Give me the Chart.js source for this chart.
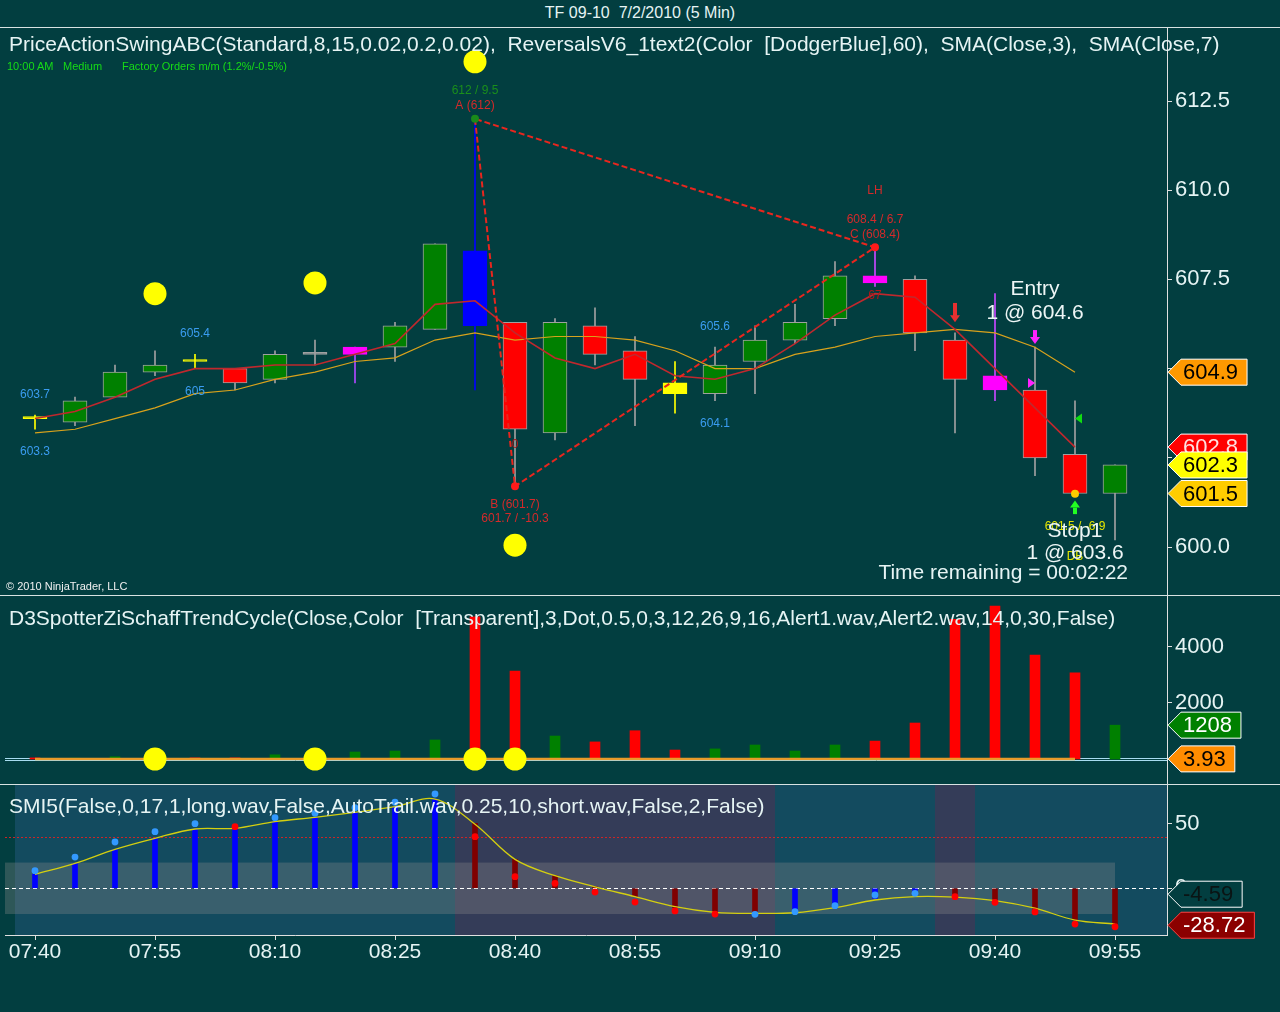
<!DOCTYPE html>
<html>
<head>
<meta charset="utf-8">
<script src="https://cdn.jsdelivr.net/npm/chart.js@4.4.1/dist/chart.umd.min.js"></script>
<style>
  html, body { margin: 0; padding: 0; background: #023e40; }
  body { width: 1280px; height: 1012px; position: relative; overflow: hidden;
         font-family: "Liberation Sans", Arial, sans-serif; color: #e6f4f4; }
  canvas { position: absolute; left: 0; }
  .txt { position: absolute; white-space: pre; z-index: 2; }
  .rule { position: absolute; left: 0; width: 1280px; height: 1px; background: #d8e2e2; z-index: 3; }
</style>
</head>
<body>
<div class="txt" style="left:0;width:1280px;text-align:center;top:4px;font-size:16px;line-height:18px;">TF 09-10  7/2/2010 (5 Min)</div>
<div class="rule" style="top:27px"></div>
<div class="rule" style="top:595px"></div>
<div class="rule" style="top:784px"></div>

<canvas id="price" width="1280" height="567" style="top:28px"></canvas>
<canvas id="osc" width="1280" height="188" style="top:596px"></canvas>
<canvas id="smi" width="1280" height="227" style="top:785px"></canvas>

<div class="txt" style="left:9px;top:33px;font-size:21px;line-height:22px;">PriceActionSwingABC(Standard,8,15,0.02,0.2,0.02),  ReversalsV6_1text2(Color  [DodgerBlue],60),  SMA(Close,3),  SMA(Close,7)</div>
<div class="txt" style="left:7px;top:60px;font-size:11px;line-height:12px;color:#16dc16;">10:00 AM</div>
<div class="txt" style="left:63px;top:60px;font-size:11px;line-height:12px;color:#16dc16;">Medium</div>
<div class="txt" style="left:122px;top:60px;font-size:11px;line-height:12px;color:#16dc16;">Factory Orders m/m (1.2%/-0.5%)</div>
<div class="txt" style="left:6px;top:580px;font-size:11px;line-height:12px;color:#f0f0f0;">© 2010 NinjaTrader, LLC</div>
<div class="txt" style="right:152px;top:561px;font-size:21px;line-height:22px;">Time remaining = 00:02:22</div>
<div class="txt" style="left:9px;top:607px;font-size:21px;line-height:22px;">D3SpotterZiSchaffTrendCycle(Close,Color  [Transparent],3,Dot,0.5,0,3,12,26,9,16,Alert1.wav,Alert2.wav,14,0,30,False)</div>
<div class="txt" style="left:9px;top:795px;font-size:21px;line-height:22px;">SMI5(False,0,17,1,long.wav,False,AutoTrail.wav,0.25,10,short.wav,False,2,False)</div>

<script>
// 5 minute bars, 07:40 .. 09:55
var times = ['07:40','07:45','07:50','07:55','08:00','08:05','08:10','08:15','08:20','08:25',
             '08:30','08:35','08:40','08:45','08:50','08:55','09:00','09:05','09:10','09:15',
             '09:20','09:25','09:30','09:35','09:40','09:45','09:50','09:55'];
var timeTicks = [0, 3, 6, 9, 12, 15, 18, 21, 24, 27];

var opens  = [603.6, 603.5, 604.2, 604.9, 605.2, 605.0, 604.7, 605.4, 605.4, 605.6,
              606.1, 608.3, 606.3, 603.2, 606.2, 605.5, 604.6, 604.3, 605.2, 605.8,
              606.4, 607.6, 607.5, 605.8, 604.8, 604.4, 602.6, 601.5];
var highs  = [603.7, 604.2, 605.1, 605.5, 605.4, 605.0, 605.5, 605.8, 605.6, 606.3,
              608.5, 612.0, 606.3, 606.4, 606.7, 605.9, 605.2, 605.6, 606.2, 606.8,
              608.0, 608.4, 607.6, 606.0, 607.1, 605.6, 604.1, 602.3];
var lows   = [603.3, 603.4, 604.2, 604.8, 605.0, 604.4, 604.6, 605.1, 604.6, 605.2,
              606.1, 604.4, 601.7, 603.0, 605.1, 603.4, 603.75, 604.1, 604.3, 605.7,
              606.2, 607.3, 605.5, 603.2, 604.1, 602.0, 601.5, 600.2];
var closes = [603.6, 604.1, 604.9, 605.1, 605.2, 604.6, 605.4, 605.4, 605.6, 606.2,
              608.5, 606.2, 603.3, 606.3, 605.4, 604.7, 604.3, 605.1, 605.8, 606.3,
              607.6, 607.4, 606.0, 604.7, 604.4, 602.5, 601.5, 602.3];
var sma3 = [603.6, 603.8, 604.2, 604.7, 605.0, 605.0, 605.1, 605.1, 605.4, 605.7,
            606.8, 606.9, 606.0, 605.3, 605.0, 605.4, 604.8, 604.7, 605.0, 605.7,
            606.5, 607.1, 607.0, 606.1, 605.0, 603.9, 602.8];
var sma7 = [603.2, 603.3, 603.6, 603.9, 604.3, 604.4, 604.7, 604.9, 605.2, 605.3,
            605.8, 606.0, 605.8, 605.9, 605.9, 605.8, 605.5, 605.0, 605.0, 605.4,
            605.6, 605.9, 606.0, 606.1, 606.0, 605.6, 604.9];
var priceTicks = [600, 602.5, 605, 607.5, 610, 612.5];

// reversal dots and the A-B-C swing
var dotBars = [3, 7, 11, 12];
var dotPrices = [607.1, 607.4, 613.6, 600.05];
var swingBars = [11, 12, 21, 11];
var swingPrices = [612.0, 601.7, 608.4, 612.0];

// D3Spotter histogram
var oscValues = [40, 30, 80, 20, 40, 40, 150, 20, 250, 285,
                 680, 5080, 3140, 820, 610, 1010, 320, 360, 500, 285,
                 500, 640, 1285, 4990, 5460, 3710, 3080, 1208];
var oscTrail = [3.93, 3.93, 3.93, 3.93, 3.93, 3.93, 3.93, 3.93, 3.93, 3.93,
                3.93, 3.93, 3.93, 3.93, 3.93, 3.93, 3.93, 3.93, 3.93, 3.93,
                3.93, 3.93, 3.93, 3.93, 3.93, 3.93, 3.93];
var oscTicks = [2000, 4000];

// SMI
var smiHist = [10.9, 19.4, 30.3, 38.9, 46.1, 46.6, 51.8, 55.2, 59.1, 63.5,
               69.4, 50.5, 22.5, 9.8, 1.2, -6.5, -15.0, -18.7, -18.0, -18.2,
               -13.5, -7.8, -2.6, -5.2, -9.6, -16.3, -24.7, -28.5];
var smiDots = [13.7, 24.3, 36.0, 44.0, 50.2, 47.9, 54.9, 58.3, 62.7, 66.9,
               73.3, 40.1, 9.0, 3.9, -2.9, -10.7, -17.6, -20.0, -20.2, -18.2,
               -13.5, -5.2, -3.9, -6.5, -10.9, -18.4, -27.8, -29.9];
var smiSignal = [10.9, 19.4, 30.3, 38.9, 46.1, 46.6, 51.8, 55.2, 59.1, 63.5,
                 69.4, 49.8, 22.5, 9.8, 1.2, -6.5, -14.3, -18.7, -19.5, -19.0,
                 -15.0, -9.1, -6.5, -6.9, -9.6, -15.5, -24.7, -27.8];
var smiTicks = [0, 50];

// colours
var G = '#008000', R = '#ff0000', Y = '#ffff00', M = '#ff00ff', B = '#0000ff', S = '#a0a0a0';
var bodyColors = [Y, G, G, G, Y, R, G, S, M, G, G, B, R, G, R, R, Y, G, G, G, G, M, R, R, M, R, R, G];
var bodyEdges  = [Y, S, S, S, Y, S, S, S, M, S, S, B, S, S, S, S, Y, S, S, S, S, M, S, S, M, S, S, S];
var wickColors = [Y, S, S, S, Y, S, S, S, '#b048ff', S, S, B, S, S, S, S, Y, S, S, S,
                  S, '#c848ff', S, S, '#c848ff', S, S, S];
var oscColors = [R, G, G, G, R, R, G, G, G, G, G, R, R, G, R, R, R, G, G, G, G, R, R, R, R, R, R, G];
var DB = '#0000ff', DR = '#800000', LB = '#3399ff';
var smiBarColors = [DB, DB, DB, DB, DB, DB, DB, DB, DB, DB, DB, DR, DR, DR, DR, DR, DR, DR, DR, DB,
                    DB, DB, DB, DR, DR, DR, DR, DR];
var smiDotColors = [LB, LB, LB, LB, LB, R, LB, LB, LB, LB, LB, R, R, R, R, R, R, R, LB, LB,
                    LB, LB, LB, R, R, R, R, R];

var FONT = '"Liberation Sans", Arial, sans-serif';
var INK = '#e6f4f4';
var XMIN = -0.75, XMAX = 28.3;

function pts(arr) {
    return arr.map(function (v, i) { return { x: i, y: v }; });
}

function drawTag(chart, scale, value, text, fill, ink, edge) {
    var ctx = chart.ctx;
    var x0 = chart.chartArea.right + 1;
    var yc = scale.getPixelForValue(value);
    ctx.save();
    ctx.font = '22px ' + FONT;
    var w = ctx.measureText(text).width + 24;
    var h = 26;
    ctx.beginPath();
    ctx.moveTo(x0, yc);
    ctx.lineTo(x0 + 13, yc - h / 2);
    ctx.lineTo(x0 + w, yc - h / 2);
    ctx.lineTo(x0 + w, yc + h / 2);
    ctx.lineTo(x0 + 13, yc + h / 2);
    ctx.closePath();
    ctx.fillStyle = fill;
    ctx.fill();
    ctx.strokeStyle = edge;
    ctx.lineWidth = 1;
    ctx.stroke();
    ctx.fillStyle = ink;
    ctx.textAlign = 'left';
    ctx.textBaseline = 'middle';
    ctx.fillText(text, x0 + 15, yc + 1);
    ctx.restore();
}

function yAxis(min, max, ticks, fmt) {
    return {
        position: 'right', min: min, max: max,
        afterBuildTicks: function (s) { s.ticks = ticks.map(function (v) { return { value: v }; }); },
        afterFit: function (s) { s.width = 113; s.paddingTop = 0; s.paddingBottom = 0; },
        ticks: { color: INK, font: { family: FONT, size: 22 }, padding: 3, callback: fmt },
        grid: { drawOnChartArea: false, color: '#e0e0e0', tickLength: 5 },
        border: { color: '#e0e0e0' }
    };
}

function hiddenX() {
    return { type: 'linear', min: XMIN, max: XMAX, offset: false, display: false,
             grid: { offset: false } };
}

var baseOptions = function (scales) {
    return {
        responsive: false, animation: false, events: [],
        layout: { padding: { left: 5, right: 0, top: 0, bottom: 0 }, autoPadding: false },
        plugins: { legend: { display: false }, tooltip: { enabled: false } },
        scales: scales
    };
};

// ---------------- price panel ----------------
var priceNotes = [
    [11, 612.78, '612 / 9.5', '#1b8f1b', 12],
    [11, 612.36, 'A (612)', '#d42a2a', 12],
    [12, 601.2, 'B (601.7)', '#d42a2a', 12],
    [12, 600.78, '601.7 / -10.3', '#d42a2a', 12],
    [12, 602.86, '0', '#b01818', 12],
    [21, 610.0, 'LH', '#d42a2a', 12],
    [21, 609.16, '608.4 / 6.7', '#d42a2a', 12],
    [21, 608.74, 'C (608.4)', '#d42a2a', 12],
    [21, 607.03, '67', '#b01818', 12],
    [0, 604.26, '603.7', '#3a9cf0', 12],
    [0, 602.66, '603.3', '#3a9cf0', 12],
    [4, 605.97, '605.4', '#3a9cf0', 12],
    [4, 604.34, '605', '#3a9cf0', 12],
    [17, 606.17, '605.6', '#3a9cf0', 12],
    [17, 603.45, '604.1', '#3a9cf0', 12],
    [26, 600.56, '601.5 / -6.9', '#e6e600', 12],
    [26, 599.72, 'DB', '#e6e600', 12],
    [25, 607.23, 'Entry', '#eef6f6', 21],
    [25, 606.56, '1 @ 604.6', '#eef6f6', 21],
    [26, 600.45, 'Stop1', '#eef6f6', 21],
    [26, 599.83, '1 @ 603.6', '#eef6f6', 21]
];
var arrowMarks = [
    [23, 606.84, 606.3, '#e83030'],
    [25, 606.08, 605.69, '#ff22ff'],
    [26, 600.95, 601.3, '#22ff22']
];
var flagMarks = [
    [24.9, 604.6, 1, '#ff22ff'],
    [26.1, 603.6, -1, '#11dd11']
];

var priceMarks = {
    id: 'priceMarks',
    afterDatasetsDraw: function (chart) {
        var ctx = chart.ctx, x = chart.scales.x, y = chart.scales.y;
        ctx.save();
        ctx.textAlign = 'center';
        ctx.textBaseline = 'middle';
        priceNotes.forEach(function (n) {
            ctx.font = n[4] + 'px ' + FONT;
            ctx.fillStyle = n[3];
            ctx.fillText(n[2], x.getPixelForValue(n[0]), y.getPixelForValue(n[1]));
        });
        arrowMarks.forEach(function (a) {
            var px = x.getPixelForValue(a[0]);
            var tail = y.getPixelForValue(a[1]), tip = y.getPixelForValue(a[2]);
            var dir = tip > tail ? 1 : -1;
            ctx.fillStyle = a[3];
            ctx.fillRect(px - 2, Math.min(tail, tip - dir * 7), 4, Math.abs(tip - tail) - 6);
            ctx.beginPath();
            ctx.moveTo(px - 5, tip - dir * 7);
            ctx.lineTo(px + 5, tip - dir * 7);
            ctx.lineTo(px, tip);
            ctx.closePath();
            ctx.fill();
        });
        flagMarks.forEach(function (f) {
            var px = x.getPixelForValue(f[0]), py = y.getPixelForValue(f[1]);
            ctx.fillStyle = f[3];
            ctx.beginPath();
            ctx.moveTo(px - f[2] * 3, py - 5);
            ctx.lineTo(px + f[2] * 4, py);
            ctx.lineTo(px - f[2] * 3, py + 5);
            ctx.closePath();
            ctx.fill();
        });
        ctx.fillStyle = '#ffcc00';
        ctx.beginPath();
        ctx.arc(x.getPixelForValue(26), y.getPixelForValue(601.49), 4, 0, Math.PI * 2);
        ctx.fill();
        ctx.restore();
    },
    afterDraw: function (chart) {
        var y = chart.scales.y;
        drawTag(chart, y, 604.9, '604.9', '#ff9900', '#000000', '#ffffff');
        drawTag(chart, y, 602.8, '602.8', '#ff0000', '#ffe0e0', '#ffffff');
        drawTag(chart, y, 601.5, '601.5', '#ffcc00', '#000000', '#ffffff');
        drawTag(chart, y, 602.3, '602.3', '#ffff00', '#000000', '#ffffff');
    }
};

new Chart(document.getElementById('price'), {
    type: 'bar',
    data: {
        datasets: [
            { data: times.map(function (t, i) { return { x: i, y: [lows[i], highs[i]] }; }),
              backgroundColor: wickColors, barThickness: 1, grouped: false, order: 10 },
            { data: times.map(function (t, i) { return { x: i, y: [opens[i], closes[i]] }; }),
              backgroundColor: bodyColors, borderColor: bodyEdges, borderWidth: 1, borderSkipped: false,
              barThickness: 24, minBarLength: 2, grouped: false, order: 9 },
            { type: 'line', data: pts(sma7), borderColor: '#d8a21c', borderWidth: 1.2, pointRadius: 0, order: 8 },
            { type: 'line', data: pts(sma3), borderColor: '#c0282d', borderWidth: 1.6, pointRadius: 0, order: 7 },
            { type: 'line', data: dotBars.map(function (b, k) { return { x: b, y: dotPrices[k] }; }),
              showLine: false, pointRadius: 11.5, pointBackgroundColor: '#ffff00', pointBorderWidth: 0, order: 6 },
            { type: 'line', data: swingBars.map(function (b, k) { return { x: b, y: swingPrices[k] }; }),
              borderColor: '#e8261e', borderWidth: 2, borderDash: [6, 3], pointRadius: [4, 4, 4, 0],
              pointBackgroundColor: ['#1a8a1a', '#ff1a1a', '#ff1a1a', '#ff1a1a'], pointBorderWidth: 0, order: 5 }
        ]
    },
    options: baseOptions({
        x: hiddenX(),
        y: yAxis(598.655, 614.546, priceTicks, function (v) { return v.toFixed(1); })
    }),
    plugins: [priceMarks]
});

// ---------------- D3Spotter panel ----------------
var oscMarks = {
    id: 'oscMarks',
    beforeDatasetsDraw: function (chart) {
        var ctx = chart.ctx, a = chart.chartArea, y = chart.scales.y;
        var py = Math.round(y.getPixelForValue(0)) + 0.5;
        ctx.save();
        ctx.strokeStyle = '#a8dcf0';
        ctx.lineWidth = 1;
        ctx.beginPath();
        ctx.moveTo(a.left, py - 1); ctx.lineTo(a.right, py - 1);
        ctx.moveTo(a.left, py + 1); ctx.lineTo(a.right, py + 1);
        ctx.stroke();
        ctx.restore();
    },
    afterDraw: function (chart) {
        var y = chart.scales.y;
        drawTag(chart, y, 1208, '1208', '#008000', '#ffffff', '#ffffff');
        drawTag(chart, y, 3.93, '3.93', '#ff8c00', '#000000', '#ffffff');
    }
};

new Chart(document.getElementById('osc'), {
    type: 'bar',
    data: {
        datasets: [
            { data: pts(oscValues), backgroundColor: oscColors, barThickness: 10, grouped: false, order: 5 },
            { type: 'line', data: pts(oscTrail), borderColor: '#e89a2a', borderWidth: 2.5, pointRadius: 0, order: 4 },
            { type: 'line', data: dotBars.map(function (b) { return { x: b, y: 0 }; }),
              showLine: false, pointRadius: 11.5, pointBackgroundColor: '#ffff00', pointBorderWidth: 0, order: 3 }
        ]
    },
    options: baseOptions({
        x: hiddenX(),
        y: yAxis(-893, 5821, oscTicks, function (v) { return String(v); })
    }),
    plugins: [oscMarks]
});

// ---------------- SMI panel ----------------
var smiZones = [
    [-0.5, 10.5, '#134b5f'],
    [10.5, 18.5, '#343c58'],
    [18.5, 22.5, '#134b5f'],
    [22.5, 23.5, '#343c58'],
    [23.5, XMAX, '#134b5f']
];

var smiMarks = {
    id: 'smiMarks',
    beforeDatasetsDraw: function (chart) {
        var ctx = chart.ctx, a = chart.chartArea, x = chart.scales.x, y = chart.scales.y;
        ctx.save();
        smiZones.forEach(function (z) {
            var l = x.getPixelForValue(z[0]), r = x.getPixelForValue(z[1]);
            ctx.fillStyle = z[2];
            ctx.fillRect(l, a.top, r - l, a.bottom - a.top);
        });
        var t = y.getPixelForValue(20), b = y.getPixelForValue(-20);
        ctx.fillStyle = 'rgba(140,140,140,0.32)';
        ctx.fillRect(a.left, t, x.getPixelForValue(27) - a.left, b - t);
        var p40 = Math.round(y.getPixelForValue(40)) + 0.5;
        ctx.strokeStyle = '#d02424';
        ctx.lineWidth = 1;
        ctx.setLineDash([2, 2]);
        ctx.beginPath(); ctx.moveTo(a.left, p40); ctx.lineTo(a.right, p40); ctx.stroke();
        var p0 = Math.round(y.getPixelForValue(0)) + 0.5;
        ctx.strokeStyle = '#ffffff';
        ctx.setLineDash([4, 3]);
        ctx.beginPath(); ctx.moveTo(a.left, p0); ctx.lineTo(a.right, p0); ctx.stroke();
        ctx.restore();
    },
    afterDatasetsDraw: function (chart) {
        var y = chart.scales.y;
        drawTag(chart, y, -4.59, '-4.59', '#023e40', '#0a1414', '#ffffff');
        drawTag(chart, y, -28.72, '-28.72', '#8b0000', '#ffffff', '#ff4040');
    }
};

var smiY = yAxis(-36.3, 80.3, smiTicks, function (v) { return String(v); });
smiY.z = 1;

new Chart(document.getElementById('smi'), {
    type: 'bar',
    data: {
        datasets: [
            { data: pts(smiHist), backgroundColor: smiBarColors, barThickness: 5, grouped: false, order: 5 },
            { type: 'line', data: pts(smiSignal), borderColor: '#d4cf10', borderWidth: 1.3, tension: 0.35,
              pointRadius: 0, order: 4 },
            { type: 'line', data: pts(smiDots), showLine: false, pointRadius: 3.4,
              pointBackgroundColor: smiDotColors, pointBorderWidth: 0, order: 3 }
        ]
    },
    options: baseOptions({
        x: {
            type: 'linear', min: XMIN, max: XMAX, position: 'bottom', offset: false,
            afterBuildTicks: function (s) { s.ticks = timeTicks.map(function (v) { return { value: v }; }); },
            afterFit: function (s) { s.height = 77; s.paddingLeft = 0; s.paddingRight = 0; },
            ticks: { color: INK, font: { family: FONT, size: 21 }, padding: 0, autoSkip: false, maxRotation: 0,
                     callback: function (v) { return times[v]; } },
            grid: { drawOnChartArea: false, color: '#e0e0e0', tickLength: 5, offset: false },
            border: { color: '#e0e0e0' }
        },
        y: smiY
    }),
    plugins: [smiMarks]
});
</script>
</body>
</html>
